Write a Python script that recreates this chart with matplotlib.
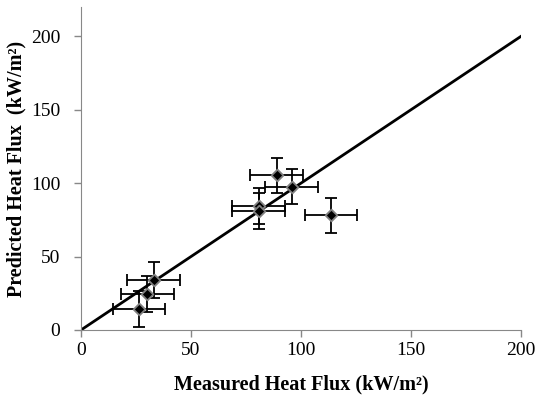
import matplotlib.pyplot as plt
import numpy as np

# valeurs
measured = [26.4, 30.1, 33.0, 80.8, 80.8, 89.0, 95.8, 113.6]
predicted = [14.3, 24.5, 34.0, 84.4, 81.0, 105.4, 97.5, 78.2]
x_err = [12, 12, 12, 12, 12, 12, 12, 12]
y_err = [12, 12, 12, 12, 12, 12, 12, 12]
ticks = [0, 50, 100, 150, 200]

plt.rcParams['font.family'] = ['Liberation Serif', 'DejaVu Serif']

fig = plt.figure(figsize=(5.35, 3.96), dpi=100)
ax = fig.add_axes([0.1514, 0.1667, 0.8224, 0.8157])

# droite y = x
ax.plot([0, 200], [0, 200], color='black', lw=2, zorder=2)

ax.errorbar(measured, predicted, xerr=x_err, yerr=y_err, fmt='none',
            ecolor='black', elinewidth=1.3, capsize=4, capthick=1.3, zorder=3)
ax.scatter(measured, predicted, marker='D', s=36, color='black',
           edgecolors='#808080', linewidths=1.3, zorder=4)

ax.set_xlim(0, 200)
ax.set_ylim(0, 220)
ax.set_xticks(ticks)
ax.set_yticks(ticks)
ax.tick_params(labelsize=14, colors='#888888', labelcolor='black',
               direction='out', length=5, width=1)
ax.tick_params(axis='y', pad=10)

for side in ['top', 'right']:
    ax.spines[side].set_visible(False)
for side in ['left', 'bottom']:
    ax.spines[side].set_color('#888888')

ax.set_xlabel('Measured Heat Flux (kW/m²)', fontsize=14.5, fontweight='bold', labelpad=11)
ax.set_ylabel('Predicted Heat Flux  (kW/m²)', fontsize=14.5, fontweight='bold', labelpad=3)

plt.savefig('out.png', dpi=100)
